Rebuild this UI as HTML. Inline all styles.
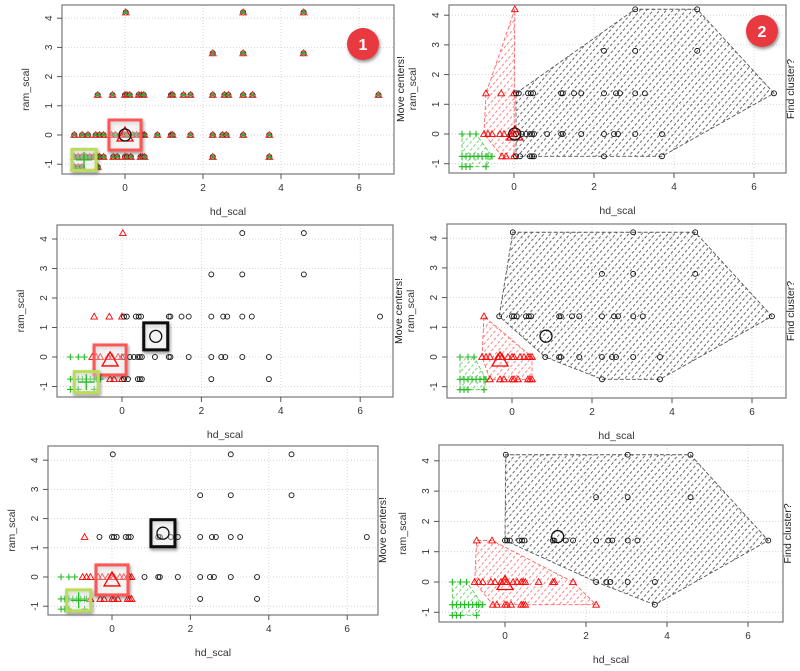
<!DOCTYPE html>
<html><head><meta charset="utf-8"><style>
html,body{margin:0;padding:0;background:#fff;}
svg{display:block;font-family:"Liberation Sans",sans-serif;}
</style></head><body>
<svg id="c" width="800" height="671" viewBox="0 0 800 671" xmlns="http://www.w3.org/2000/svg">
<defs>
<pattern id="hk" width="5" height="5" patternUnits="userSpaceOnUse" patternTransform="rotate(40)"><line x1="2" y1="0" x2="2" y2="5" stroke="#444" stroke-width="0.8" stroke-dasharray="3 2"/></pattern>
<pattern id="hr" width="5" height="5" patternUnits="userSpaceOnUse" patternTransform="rotate(40)"><line x1="2" y1="0" x2="2" y2="5" stroke="#f66" stroke-width="0.8" stroke-dasharray="3 2"/></pattern>
<pattern id="hg" width="5" height="5" patternUnits="userSpaceOnUse" patternTransform="rotate(40)"><line x1="2" y1="0" x2="2" y2="5" stroke="#5c5" stroke-width="0.8" stroke-dasharray="3 2"/></pattern>
<filter id="sh" x="-30%" y="-30%" width="160%" height="160%"><feDropShadow dx="1" dy="2" stdDeviation="1.5" flood-color="#000" flood-opacity="0.45"/></filter>
</defs>
</svg>
<script>
// data: hd_scal values per ram_scal level
const ramLevels = [4.2, 2.8, 1.37, 0, -0.75, -1.1];
const hdByLevel = [
  [0.02, 3.03, 4.58],
  [2.25, 3.03, 4.58],
  [-0.7, -0.32, 0.0, 0.05, 0.12, 0.35, 0.42, 0.48, 1.18, 1.22, 1.5, 1.68, 2.25, 2.55, 2.65, 3.03, 3.27, 6.5],
  [-1.3, -1.1, -0.95, -0.75, -0.65, -0.55, -0.35, -0.25, -0.1, 0.0, 0.05, 0.2, 0.3, 0.4, 0.45, 0.5, 0.83, 1.18, 1.22, 1.68, 2.25, 2.5, 2.6, 3.03, 3.7],
  [-1.3, -1.2, -1.1, -1.0, -0.9, -0.8, -0.7, -0.65, -0.55, -0.3, -0.2, 0.0, 0.05, 0.15, 0.4, 0.45, 0.5, 2.25, 3.7],
  [-1.3, -1.2, -1.1, -0.7]
];
// cluster labels per stage (g=green, r=red, k=black), same order as hdByLevel
const stage1 = ["rkk","kkk","rrrkkkkkkkkkkkkkkk","gggrrrrrrrkkkkkkkkkkkkkkk","gggggggggrrrkkkkkkk","gggg"];
const stage2 = ["kkk","kkk","rkkkkkkkkkkkkkkkkk","gggrrrrrrrrrrrrrkkkkkkkkk","ggggggggrrrrrrrrrkk","gggg"];
const stage3 = ["kkk","kkk","rrkkkkkkkkkkkkkkkk","gggrrrrrrrrrrrrrrrrrkkkkk","gggggggggrrrrrrrrrk","gggg"];
// cluster centers per panel [hd, ram]
const centersRow1L = {r:[0,0], k:[0,0], g:[-1.05,-0.85]};
const centersRow1R = {r:[0.02,0], k:[0.02,0]};
const centersRow2L = {r:[-0.3,-0.1], k:[0.85,0.7], g:[-0.9,-0.85]};
const centersRow2R = {r:[-0.3,-0.1], k:[0.85,0.7]};
const centersRow3L = {r:[0,-0.1], k:[1.3,1.5], g:[-0.85,-0.8]};
const centersRow3R = {r:[0,-0.05], k:[1.3,1.5]};
const xTicks = [0,2,4,6];
const yTicks = [-1,0,1,2,3,4];

const NS="http://www.w3.org/2000/svg";
const svg=document.getElementById('c');
function el(tag,attrs,parent){const e=document.createElementNS(NS,tag);for(const k in attrs)e.setAttribute(k,attrs[k]);(parent||svg).appendChild(e);return e;}

const panels=[
 {name:'panel-1',x0:62,x1:394,y0:5,y1:174,xs0:125,xu:39,ys0:135,yu:29.2,labels:null,centers:centersRow1L,boxes:['r','g'],hull:false,right:false,badge:'1'},
 {name:'panel-2',x0:449,x1:786,y0:5,y1:173,xs0:514,xu:40,ys0:134,yu:29.7,labels:stage1,centers:centersRow1R,boxes:[],hull:true,right:true,badge:'2'},
 {name:'panel-3',x0:57,x1:393,y0:225,y1:397,xs0:122,xu:39.7,ys0:357,yu:29.5,labels:stage1,centers:centersRow2L,boxes:['r','g','k'],hull:false,right:false},
 {name:'panel-4',x0:447,x1:786,y0:224,y1:398,xs0:512,xu:40,ys0:357,yu:29.7,labels:stage2,centers:centersRow2R,boxes:[],hull:true,right:true},
 {name:'panel-5',x0:48,x1:378,y0:446,y1:615,xs0:112,xu:39.2,ys0:577,yu:29.2,labels:stage2,centers:centersRow3L,boxes:['r','g','k'],hull:false,right:false},
 {name:'panel-6',x0:439,x1:783,y0:445,y1:622,xs0:505,xu:40.5,ys0:582,yu:30.3,labels:stage3,centers:centersRow3R,boxes:[],hull:true,right:true,noMove:true}
];
const COL={k:'#111',r:'#f00',g:'#2b2'};

function sym(g,type,x,y,s,parent,w){
  if(type==='k') return el('circle',{cx:x,cy:y,r:s*0.75,fill:'none',stroke:COL.k,'stroke-width':w||0.9},parent);
  if(type==='r') return el('polygon',{points:`${x},${y-s} ${x-s},${y+s*0.75} ${x+s},${y+s*0.75}`,fill:'none',stroke:COL.r,'stroke-width':w||0.9},parent);
  return el('path',{d:`M${x-s} ${y}H${x+s}M${x} ${y-s}V${y+s}`,stroke:COL.g,'stroke-width':w||1.1},parent);
}
function hullOf(pts){
  pts=pts.slice().sort((a,b)=>a[0]-b[0]||a[1]-b[1]);
  if(pts.length<3)return pts;
  const cr=(o,a,b)=>(a[0]-o[0])*(b[1]-o[1])-(a[1]-o[1])*(b[0]-o[0]);
  const lo=[],up=[];
  for(const p of pts){while(lo.length>=2&&cr(lo[lo.length-2],lo[lo.length-1],p)<=0)lo.pop();lo.push(p);}
  for(let i=pts.length-1;i>=0;i--){const p=pts[i];while(up.length>=2&&cr(up[up.length-2],up[up.length-1],p)<=0)up.pop();up.push(p);}
  up.pop();lo.pop();return lo.concat(up);
}

panels.forEach(P=>{
  const g=el('g',{});
  
  
  const X=v=>P.xs0+v*P.xu, Y=v=>P.ys0-v*P.yu;
  xTicks.forEach(t=>el('line',{x1:X(t),x2:X(t),y1:P.y0,y2:P.y1,stroke:'#ccc','stroke-dasharray':'1 2','stroke-width':0.8},g));
  yTicks.forEach(t=>el('line',{x1:P.x0,x2:P.x1,y1:Y(t),y2:Y(t),stroke:'#ccc','stroke-dasharray':'1 2','stroke-width':0.8},g));
  if(P.hull){
    ['k','r','g'].forEach(c=>{
      const pts=[];
      ramLevels.forEach((r,i)=>hdByLevel[i].forEach((h,j)=>{if(P.labels[i][j]===c)pts.push([X(h),Y(r)]);}));
      const hp=hullOf(pts);
      const poly=el('polygon',{points:hp.map(p=>p.join(',')).join(' '),fill:`url(#h${c})`,stroke:c==='k'?'#555':(c==='r'?'#f66':'#5c5'),'stroke-dasharray':'4 2','stroke-width':0.9},g);
      
      
    });
  }
  ramLevels.forEach((r,i)=>hdByLevel[i].forEach((h,j)=>{
    const x=X(h),y=Y(r);
    if(!P.labels){
      el('circle',{cx:x,cy:y,r:2.6,fill:'none',stroke:'#222','stroke-width':0.9},g);
      el('polygon',{points:`${x},${y-3.5} ${x-3.5},${y+2.6} ${x+3.5},${y+2.6}`,fill:'none',stroke:'#f33','stroke-width':0.9},g);
      el('circle',{cx:x,cy:y,r:1.8,fill:'#3a3'},g);
    } else {
      const m=sym(g,P.labels[i][j],x,y,3.3,g);
      
      
    }
  }));
  const BOX={r:{w:32,h:30,c:'#f55'},g:{w:24,h:21,c:'#bd5'},k:{w:24,h:27,c:'#111'}};
  Object.keys(P.centers).forEach(c=>{
    const [h,r]=P.centers[c];const x=X(h),y=Y(r);
    if(P.boxes.indexOf(c)>=0){
      const b=BOX[c];
      const bx=el('rect',{x:x-b.w/2,y:y-b.h/2,width:b.w,height:b.h,fill:'rgba(255,255,255,0.3)',stroke:b.c,'stroke-width':3,filter:'url(#sh)'},g);
      
      
    }
    const m=sym(g,c,x,y,8,g,1.3);
    
    
  });
  el('rect',{x:P.x0,y:P.y0,width:P.x1-P.x0,height:P.y1-P.y0,fill:'none',stroke:'#777','stroke-width':1.2},g);
  xTicks.forEach(t=>{
    el('line',{x1:X(t),x2:X(t),y1:P.y1,y2:P.y1+5,stroke:'#555'},g);
    const tx=el('text',{x:X(t),y:P.y1+17,'font-size':10,fill:'#333','text-anchor':'middle'},g);tx.textContent=t;
  });
  yTicks.forEach(t=>{
    el('line',{x1:P.x0-5,x2:P.x0,y1:Y(t),y2:Y(t),stroke:'#555'},g);
    const tx=el('text',{x:P.x0-10,y:Y(t),'font-size':10,fill:'#333','text-anchor':'middle',transform:`rotate(-90 ${P.x0-10} ${Y(t)})`},g);tx.textContent=t;
  });
  const cy=(P.y0+P.y1)/2;
  const xt=el('text',{x:(P.x0+P.x1)/2,y:P.y1+41,'font-size':10.5,fill:'#333','text-anchor':'middle'},g);xt.textContent='hd_scal';
  
  const b=el('text',{x:P.x0-33,y:cy,'font-size':10.5,fill:'#333','text-anchor':'middle',transform:`rotate(-90 ${P.x0-33} ${cy})`},g);b.textContent='ram_scal';
  
  if(P.right){
    if(!P.noMove){
      const a=el('text',{x:P.x0-45,y:cy,'font-size':10.5,fill:'#222','text-anchor':'middle',transform:`rotate(-90 ${P.x0-45} ${cy})`},g);a.textContent='Move centers!';
      
    }
    const f=el('text',{x:P.x1+8,y:cy,'font-size':10.5,fill:'#222','text-anchor':'middle',transform:`rotate(-90 ${P.x1+8} ${cy})`},g);f.textContent='Find cluster?';
    
  }
  if(P.badge){
    const bx=P.badge==='1'?363:762, by=P.badge==='1'?44:31;
    const c=el('circle',{cx:bx,cy:by,r:16,fill:'#e8393f',filter:'url(#sh)'},g);
    
    const t=el('text',{x:bx,y:by+6,'font-size':16,'font-weight':'bold',fill:'#fff','text-anchor':'middle'},g);t.textContent=P.badge;
  }
});
// "Move centers!" at right edge of bottom-left panel
const mc=el('text',{x:386,y:530,'font-size':10.5,fill:'#222','text-anchor':'middle',transform:'rotate(-90 386 530)'});
mc.textContent='Move centers!';


</script>
</body></html>
